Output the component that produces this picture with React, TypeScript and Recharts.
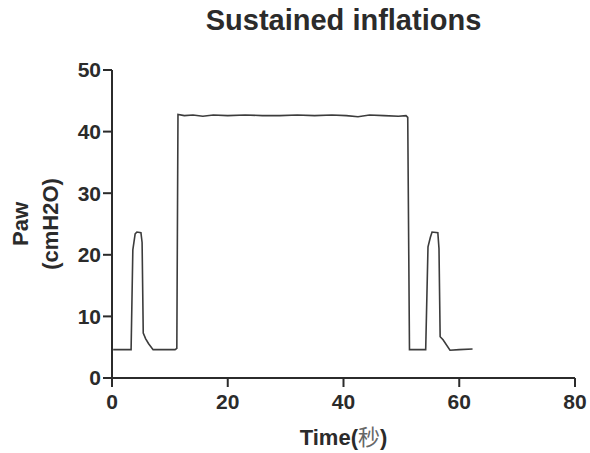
import { LineChart, Line, XAxis, YAxis } from "recharts";

// time (s) and airway pressure (cmH2O)
const timeSec = [
  0.2, 3.3, 3.6, 4.0, 4.3, 5.0, 5.2, 5.4, 5.8, 6.3, 7.1, 10.9, 11.2, 11.4,
  12.5, 14.0, 15.7, 17.5, 20.0, 23.0, 26.0, 29.0, 32.0, 35.0, 38.0, 40.5,
  42.5, 44.5, 47.0, 49.5, 50.8, 51.1, 51.4, 54.2, 54.6, 55.0, 55.3, 56.3,
  56.5, 56.7, 57.2, 58.4, 60.0, 62.3,
];
const pawValues = [
  4.6, 4.6, 20.8, 23.4, 23.7, 23.6, 22.0, 7.3, 6.4, 5.6, 4.6, 4.6, 4.8, 42.8,
  42.6, 42.7, 42.5, 42.7, 42.6, 42.7, 42.6, 42.6, 42.7, 42.6, 42.7, 42.6,
  42.4, 42.7, 42.6, 42.5, 42.6, 42.3, 4.6, 4.6, 21.3, 22.8, 23.7, 23.6, 21.0,
  6.7, 6.2, 4.5, 4.6, 4.7,
];

const xTicks = [0, 20, 40, 60, 80];
const yTicks = [0, 10, 20, 30, 40, 50];

const data = timeSec.map((t, i) => ({ t, paw: pawValues[i] }));

const FONT = "'Liberation Sans', Arial, sans-serif";
const INK = "#2b2b2b";

function YLabel() {
  return (
    <g transform="translate(0, 224) rotate(-90)">
      <text
        x={0}
        y={28}
        textAnchor="middle"
        fontFamily={FONT}
        fontWeight="bold"
        fontSize={22}
        fill={INK}
      >
        Paw
      </text>
      <text
        x={0}
        y={58}
        textAnchor="middle"
        fontFamily={FONT}
        fontWeight="bold"
        fontSize={22}
        fill={INK}
      >
        (cmH2O)
      </text>
    </g>
  );
}

export default function App() {
  return (
    <div style={{ position: "absolute", left: 0, top: 0, width: 590, height: 453, background: "#fff" }}>
      <div
        style={{
          position: "absolute",
          left: 112,
          width: 463,
          top: 4,
          textAlign: "center",
          fontFamily: FONT,
          fontWeight: "bold",
          fontSize: 29,
          color: INK,
        }}
      >
        Sustained inflations
      </div>
      <LineChart
        width={590}
        height={453}
        data={data}
        margin={{ top: 70, right: 15, bottom: 0, left: 0 }}
      >
        <XAxis
          dataKey="t"
          type="number"
          domain={[0, 80]}
          ticks={xTicks}
          allowDataOverflow
          height={75}
          tickSize={9}
          tickMargin={7}
          stroke={INK}
          strokeWidth={2}
          tick={{ fill: INK, fontFamily: FONT, fontWeight: "bold", fontSize: 21 }}
          label={({ viewBox }: any) => (
            <text
              x={viewBox.x + viewBox.width / 2}
              y={445}
              textAnchor="middle"
              fontFamily={FONT}
              fontWeight="bold"
              fontSize={22}
              fill={INK}
            >
              Time(
              <tspan fontFamily="'Noto Sans CJK SC'" fontWeight="normal" fill="#666">
                秒
              </tspan>
              )
            </text>
          )}
        />
        <YAxis
          type="number"
          domain={[0, 50]}
          ticks={yTicks}
          width={112}
          tickSize={9}
          tickMargin={2}
          stroke={INK}
          strokeWidth={2}
          tick={{ fill: INK, fontFamily: FONT, fontWeight: "bold", fontSize: 21 }}
          label={<YLabel />}
        />
        <Line
          type="linear"
          dataKey="paw"
          stroke="#3c3c3c"
          strokeWidth={1.6}
          dot={false}
          isAnimationActive={false}
        />
      </LineChart>
    </div>
  );
}
